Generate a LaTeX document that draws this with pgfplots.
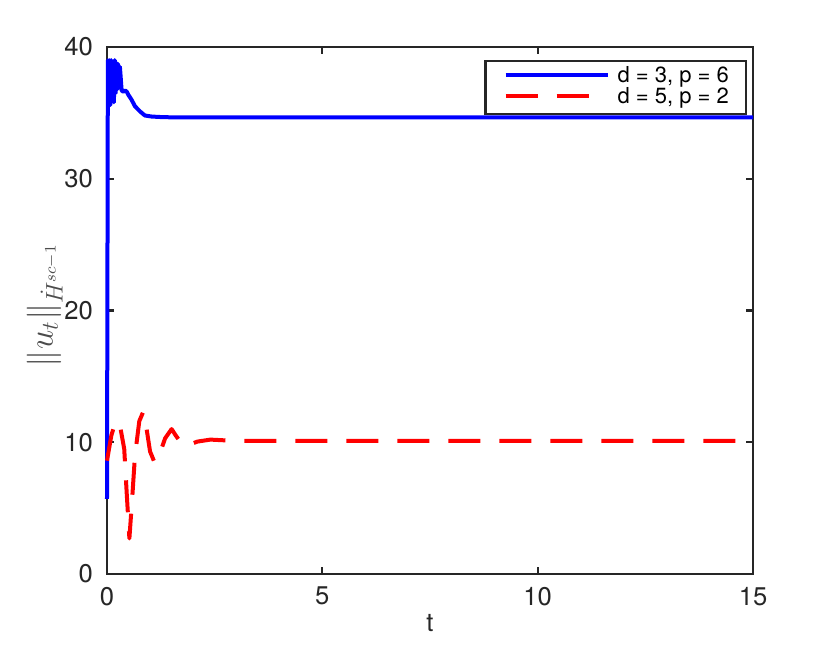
\documentclass[border=0pt]{standalone}
\usepackage{pgfplots}
\pgfplotsset{compat=1.18}
\usepackage{fontspec}
\setmainfont{TeX Gyre Heros}
\definecolor{axgray}{HTML}{262626}
\definecolor{mblue}{RGB}{0,0,255}
\definecolor{mred}{RGB}{255,0,0}

\begin{document}
\begin{tikzpicture}
\begin{axis}[
    scale only axis,
    width=323pt,height=263.5pt,
    xmin=0,xmax=15,ymin=0,ymax=40,
    xtick={0,5,10,15},
    ytick={0,10,20,30,40},
    clip=false,
    tick align=inside,
    major tick length=3.5pt,
    axis line style={axgray,line width=1.3pt},
    tick style={axgray,line width=1.1pt},
    tick label style={font=\fontsize{12.8}{15}\selectfont,text=axgray},
    /pgf/number format/assume math mode=true,
    yticklabel style={xshift=-3.5pt},
    xticklabel style={yshift=-3pt},
    xlabel={t},
    xlabel style={at={(axis description cs:0.5,0)},anchor=north,yshift=-16.5pt,
        font=\fontsize{12.8}{15}\selectfont,text=axgray},
    ylabel={$\|u_t\|_{\dot H^{sc-1}}$},
    ylabel style={at={(axis description cs:-0.068,0.51)},anchor=south,inner sep=0pt,
        font=\fontsize{17}{19}\selectfont,text=black!70},
    legend style={at={(axis description cs:0.9907,0.9753)},anchor=north east,
        draw=axgray,line width=1.1pt,fill=white,
        inner xsep=8.5pt,inner ysep=2.75pt,row sep=0pt,
        nodes={inner sep=0pt,font=\fontsize{11}{13}\selectfont,
            text height=8pt,text depth=2.5pt},
        /tikz/every odd column/.style={column sep=4pt}},
    legend cell align=left,
    legend image code/.code={
        \draw[#1] (0.5pt,1.25pt) -- (51.5pt,1.25pt);
        \path (0pt,0pt) (51.5pt,0pt);
    },
]
% d = 3, p = 6
\addplot[mblue,line width=2pt,line join=round] coordinates {
    (0,5.7) (0.02,39) (0.04,36.5) (0.06,39) (0.08,35.6) (0.1,39)
    (0.12,36) (0.14,38.9) (0.16,35.8) (0.18,39) (0.2,36.5) (0.22,38.8)
    (0.24,36.8) (0.26,38.7) (0.28,37) (0.3,38.5) (0.34,36.7) (0.38,36.6)
    (0.42,36.7) (0.46,36.6) (0.49,36.4) (0.57,36) (0.65,35.5) (0.77,35.1)
    (0.88,34.8) (1.04,34.72) (1.27,34.68) (1.65,34.65) (15,34.65)
};
\addlegendentry{d = 3, p = 6}
% d = 5, p = 2
\addplot[mred,line width=2pt,line join=round,dash pattern=on 16pt off 9.5pt] coordinates {
    (0,8.6) (0.1,10.5) (0.2,11.6) (0.3,11.3) (0.4,9.5) (0.46,6)
    (0.52,2.7) (0.58,5.5) (0.65,9) (0.75,11.6) (0.84,12.3) (0.92,11)
    (1.0,9.3) (1.1,8.5) (1.2,8.9) (1.35,10.3) (1.5,11) (1.6,10.5)
    (1.75,9.8) (1.9,9.8) (2.1,10.05) (2.4,10.2) (3,10.1) (15,10.1)
};
\addlegendentry{d = 5, p = 2}
\end{axis}
\pgfresetboundingbox
\path (-53.5pt,-36pt) rectangle (361.5pt,287pt);
\end{tikzpicture}
\end{document}
